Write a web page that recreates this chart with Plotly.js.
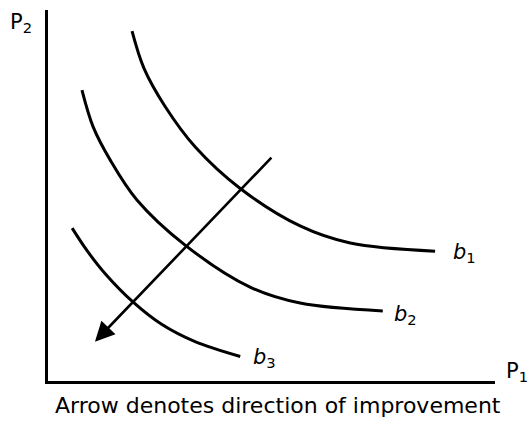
<!DOCTYPE html>
<html>
<head>
<meta charset="utf-8">
<script src="https://cdn.plot.ly/plotly-3.0.1.min.js"></script>
<style>html,body{margin:0;padding:0;background:#fff;}#chart{width:530px;height:431px;}</style>
</head>
<body>
<div id="chart"></div>
<script>
// Indifference curves b1, b2, b3 (P1 on x, P2 on y, arbitrary 0-10 units)
var b1_x = [1.88, 2.15, 2.62, 3.30, 4.30, 5.64, 6.76, 8.66];
var b1_y = [9.43, 8.42, 7.40, 6.30, 5.19, 4.18, 3.72, 3.50];
var b2_x = [0.76, 1.01, 1.39, 1.99, 3.06, 4.52, 5.64, 7.49];
var b2_y = [7.84, 6.85, 5.96, 4.88, 3.67, 2.53, 2.10, 1.89];
var b3_x = [0.54, 0.87, 1.28, 1.90, 2.55, 3.29, 4.30];
var b3_y = [4.12, 3.52, 2.89, 2.13, 1.52, 1.06, 0.66];
var curveNames = ["b1", "b2", "b3"];
// Arrow: tail and tip
var arrow_tail = [5.03, 6.06];
var arrow_tip = [1.05, 1.06];
var caption = "Arrow denotes direction of improvement";

var font = "DejaVu Sans";
function curve(x, y, name) {
  return {x: x, y: y, name: name, mode: "lines", type: "scatter",
    line: {color: "#000", width: 3, shape: "spline", smoothing: 1},
    hoverinfo: "skip", showlegend: false};
}
var data = [curve(b1_x, b1_y, curveNames[0]), curve(b2_x, b2_y, curveNames[1]), curve(b3_x, b3_y, curveNames[2])];

function lastPt(xs, ys) { return [xs[xs.length - 1], ys[ys.length - 1]]; }
var e1 = lastPt(b1_x, b1_y), e2 = lastPt(b2_x, b2_y), e3 = lastPt(b3_x, b3_y);

var annotations = [
  {x: arrow_tip[0], y: arrow_tip[1], ax: arrow_tail[0], ay: arrow_tail[1], xref: "x", yref: "y",
   axref: "x", ayref: "y", text: "", showarrow: true, arrowhead: 2, arrowsize: 1.5, arrowwidth: 2.6,
   arrowcolor: "#000", standoff: 0},
  {x: e1[0], y: e1[1], xref: "x", yref: "y", xshift: 29, yshift: -2, showarrow: false,
   text: "<i>b</i><sub>1</sub>", font: {family: font, size: 21, color: "#000"}},
  {x: e2[0], y: e2[1], xref: "x", yref: "y", xshift: 23, yshift: -4, showarrow: false,
   text: "<i>b</i><sub>2</sub>", font: {family: font, size: 21, color: "#000"}},
  {x: e3[0], y: e3[1], xref: "x", yref: "y", xshift: 24, yshift: -1, showarrow: false,
   text: "<i>b</i><sub>3</sub>", font: {family: font, size: 21, color: "#000"}},
  {x: 0, y: 1, xref: "paper", yref: "paper", xanchor: "left", yanchor: "top", xshift: -40, yshift: 2,
   showarrow: false, text: "P<sub>2</sub>", font: {family: font, size: 21, color: "#000"}},
  {x: 1, y: 0, xref: "paper", yref: "paper", xanchor: "left", yanchor: "middle", xshift: 9, yshift: 9,
   showarrow: false, text: "P<sub>1</sub>", font: {family: font, size: 21, color: "#000"}},
  {x: 0.5, y: 0, xref: "paper", yref: "paper", xshift: 6, yshift: -24, yanchor: "middle",
   showarrow: false, text: caption, font: {family: font, size: 22, color: "#000"}}
];

var layout = {
  width: 530, height: 431,
  margin: {l: 48, r: 35, t: 10, b: 50},
  paper_bgcolor: "#fff", plot_bgcolor: "#fff",
  xaxis: {range: [0, 10], showline: true, linewidth: 3, linecolor: "#000", showgrid: false,
    zeroline: false, showticklabels: false, ticks: "", fixedrange: true},
  yaxis: {range: [0, 10], showline: true, linewidth: 3, linecolor: "#000", showgrid: false,
    zeroline: false, showticklabels: false, ticks: "", fixedrange: true},
  annotations: annotations,
  showlegend: false
};
Plotly.newPlot("chart", data, layout, {displayModeBar: false, staticPlot: true});
</script>
</body>
</html>
